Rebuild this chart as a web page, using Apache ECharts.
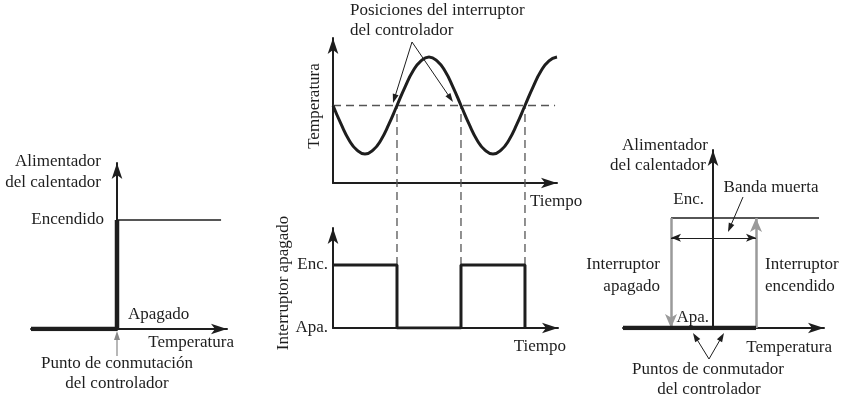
<!DOCTYPE html>
<html><head><meta charset="utf-8">
<script src="https://cdn.jsdelivr.net/npm/echarts@6/dist/echarts.min.js"></script>
<style>html,body{margin:0;padding:0;background:#fff}#c{width:850px;height:404px}</style>
</head><body><div id="c"></div>
<script>
// ---------- Panel 1: on/off characteristic ----------
const p1OffPath = [[-10, 0], [0, 0], [0, 1]];
const p1OnPath = [[0, 1], [12.1, 1]];
const p1TickLabels = ['', 'Encendido'];

// ---------- Panel 2: temperature vs time ----------
const tempTime = [0, 0.125, 0.25, 0.375, 0.5, 0.625, 0.75, 0.875, 1, 1.125, 1.25, 1.375, 1.5, 1.625, 1.75, 1.875, 2, 2.125, 2.25, 2.375, 2.5, 2.625, 2.75, 2.875, 3, 3.125, 3.25, 3.375, 3.5];
const tempValues = [0, -0.38, -0.71, -0.92, -1, -0.92, -0.71, -0.38, 0, 0.38, 0.71, 0.92, 1, 0.92, 0.71, 0.38, 0, -0.38, -0.71, -0.92, -1, -0.92, -0.71, -0.38, 0, 0.38, 0.71, 0.92, 1];
const setpointLine = [[0, 0], [3.47, 0]];
const switchInstants = [1, 2, 3];

// ---------- Panel 3: switch state vs time ----------
const switchTime = [0, 1, 1, 2, 2, 3, 3];
const switchState = [1, 1, 0, 0, 1, 1, 0];
const switchTickLabels = ['Apa.', 'Enc.'];
const setpointInSwitchUnits = 3.53;

// ---------- Panel 4: on/off with dead band ----------
const p4OffPath = [[-9, 0], [4.3, 0]];
const p4OnPath = [[-4.2, 1], [10.6, 1]];
const p4SwitchOffT = -4.2;
const p4SwitchOnT = 4.3;
const deadBandLevel = 0.82;

const FONT = '"Liberation Serif", "Times New Roman", serif';
const INK = '#1e1e1e';
const GRAY = '#9a9a9a';

const chart = echarts.init(document.getElementById('c'), null, {renderer: 'canvas'});

function axis(min, max, extra) {
  return Object.assign({
    type: 'value', min: min, max: max,
    axisLine: {show: true, onZero: true, symbol: ['none', 'arrow'], symbolSize: [8, 16],
      lineStyle: {color: INK, width: 2}},
    axisTick: {show: false}, axisLabel: {show: false}, splitLine: {show: false}
  }, extra || {});
}

function txt(text, x, y, align, extra) {
  return Object.assign({
    type: 'text', x: x, y: y, silent: true,
    style: {text: text, x: 0, y: 0, fill: INK, font: '17px ' + FONT,
      textAlign: align || 'left', textVerticalAlign: 'middle', align: align || 'left', verticalAlign: 'middle'}
  }, extra || {});
}

function arrow(x1, y1, x2, y2, color, w, hl, hw) {
  const a = Math.atan2(y2 - y1, x2 - x1);
  const c = Math.cos(a), s = Math.sin(a);
  const bx = x2 - hl * c, by = y2 - hl * s;
  return {
    type: 'group', silent: true,
    children: [
      {type: 'line', shape: {x1: x1, y1: y1, x2: x2 - hl * 0.6 * c, y2: y2 - hl * 0.6 * s},
        style: {stroke: color, lineWidth: w}},
      {type: 'polygon', shape: {points: [[x2, y2], [bx - hw * s, by + hw * c], [bx + hw * s, by - hw * c]]},
        style: {fill: color}}
    ]
  };
}

const labelStyle = {fontFamily: FONT, fontSize: 17, color: INK};
const gridBase = {containLabel: false, outerBoundsMode: 'none'};

const option = {
  animation: false,
  backgroundColor: '#fff',
  grid: [
    Object.assign({left: 31, top: 163, width: 196, height: 166}, gridBase),
    Object.assign({left: 333, top: 38, width: 224, height: 145}, gridBase),
    Object.assign({left: 333, top: 228, width: 225, height: 100}, gridBase),
    Object.assign({left: 623, top: 150, width: 201, height: 178}, gridBase)
  ],
  xAxis: [
    axis(-10, 12.79, {gridIndex: 0}),
    axis(0, 3.5, {gridIndex: 1, axisLine: {show: true, onZero: false, symbol: ['none', 'arrow'], symbolSize: [8, 16], lineStyle: {color: INK, width: 2}}}),
    axis(0, 3.516, {gridIndex: 2}),
    axis(-9, 11.1, {gridIndex: 3})
  ],
  yAxis: [
    axis(0, 1.523, {gridIndex: 0}),
    axis(-1.598, 1.392, {gridIndex: 1}),
    axis(0, 1.587, {gridIndex: 2, interval: 1,
      axisLabel: Object.assign({show: true, margin: 5, formatter: v => switchTickLabels[Math.round(v)] || ''}, labelStyle)}),
    axis(0, 1.618, {gridIndex: 3})
  ],
  series: [
    // panel 1
    {type: 'line', xAxisIndex: 0, yAxisIndex: 0, data: p1OffPath, symbol: 'none',
      lineStyle: {color: INK, width: 4.5}, z: 5},
    {type: 'line', xAxisIndex: 0, yAxisIndex: 0, data: p1OnPath, symbol: 'none',
      lineStyle: {color: INK, width: 1.5}, z: 4},
    // panel 2
    {type: 'line', xAxisIndex: 1, yAxisIndex: 1, data: setpointLine, symbol: 'none',
      lineStyle: {color: '#555', width: 1.3, type: [8, 5]}},
    {type: 'line', xAxisIndex: 1, yAxisIndex: 1, data: tempTime.map((t, i) => [t, tempValues[i]]),
      symbol: 'none', smooth: 0.5, lineStyle: {color: INK, width: 3}, z: 5},
    // panel 3 : dashed verticals + square wave
    ...switchInstants.map(t => ({type: 'line', xAxisIndex: 2, yAxisIndex: 2, clip: false,
      data: [[t, 1], [t, setpointInSwitchUnits]], symbol: 'none',
      lineStyle: {color: '#555', width: 1.3, type: [8, 5]}})),
    {type: 'line', xAxisIndex: 2, yAxisIndex: 2, data: switchTime.map((t, i) => [t, switchState[i]]),
      symbol: 'none', lineStyle: {color: INK, width: 3}, z: 5},
    // panel 4
    {type: 'line', xAxisIndex: 3, yAxisIndex: 3, data: p4OffPath, symbol: 'none',
      lineStyle: {color: INK, width: 4.5}, z: 5},
    {type: 'line', xAxisIndex: 3, yAxisIndex: 3, data: p4OnPath, symbol: 'none',
      lineStyle: {color: INK, width: 1.5}, z: 4,
      markLine: {silent: true, symbol: ['none', 'arrow'], symbolSize: [9, 14], label: {show: false},
        lineStyle: {color: GRAY, width: 2.5, type: 'solid'}, emphasis: {disabled: true},
        data: [
          [{coord: [p4SwitchOffT, 1]}, {coord: [p4SwitchOffT, 0]}],
          [{coord: [p4SwitchOnT, 0]}, {coord: [p4SwitchOnT, 1]}]
        ]}},
    {type: 'line', xAxisIndex: 3, yAxisIndex: 3, data: [], symbol: 'none',
      markLine: {silent: true, symbol: ['arrow', 'arrow'], symbolSize: [6, 10], label: {show: false},
        lineStyle: {color: INK, width: 1.2, type: 'solid'}, emphasis: {disabled: true},
        data: [[{coord: [p4SwitchOffT, deadBandLevel]}, {coord: [p4SwitchOnT, deadBandLevel]}]]}}
  ],
  graphic: [
    // panel 1 texts
    txt('Alimentador', 101, 162, 'right'),
    txt('del calentador', 101, 183, 'right'),
    txt('Apagado', 128, 315, 'left'),
    txt('Temperatura', 234, 343, 'right'),
    txt('Punto de conmutación', 117, 364, 'center'),
    txt('del controlador', 117, 384, 'center'),
    arrow(117, 356, 117, 331, '#888', 1.2, 9, 3),
    // panel 2 texts
    txt('Posiciones del interruptor', 350, 11, 'left'),
    txt('del controlador', 350, 31, 'left'),
    txt('Temperatura', 315, 106, 'center', {rotation: Math.PI / 2}),
    txt('Tiempo', 530, 202, 'left'),
    arrow(412, 42, 393, 103, INK, 1, 9, 3),
    arrow(412, 42, 453, 102, INK, 1, 9, 3),
    // panel 3 texts
    txt('Interruptor apagado', 284, 283, 'center', {rotation: Math.PI / 2}),
    txt('Tiempo', 566, 347, 'right'),
    // panel 4 texts
    txt('Alimentador', 665, 146, 'center'),
    txt('del calentador', 658, 166, 'center'),
    txt('Banda muerta', 771, 188, 'center'),
    txt('Enc.', 704, 200, 'right'),
    txt('Interruptor', 660, 265, 'right'),
    txt('apagado', 660, 287, 'right'),
    txt('Interruptor', 765, 265, 'left'),
    txt('encendido', 765, 287, 'left'),
    txt('Apa.', 709, 318, 'right'),
    txt('Temperatura', 832, 348, 'right'),
    txt('Puntos de conmutador', 708, 370, 'center'),
    txt('del controlador', 709, 390, 'center'),
    arrow(743, 197, 728, 232, INK, 1, 9, 3),
    arrow(709, 359, 693, 333, INK, 1, 9, 3),
    arrow(709, 359, 724, 333, INK, 1, 9, 3)
  ]
};
chart.setOption(option);

// Tick label of panel 1's vertical axis (the axis sits at temperature 0, so place it beside the axis line)
const p1Ticks = p1TickLabels.map((lab, v) => ({lab: lab, px: chart.convertToPixel({gridIndex: 0}, [0, v])}))
  .filter(o => o.lab);
chart.setOption({
  graphic: option.graphic.concat(p1Ticks.map(o => txt(o.lab, o.px[0] - 13, o.px[1], 'right')))
});
</script>
</body></html>
